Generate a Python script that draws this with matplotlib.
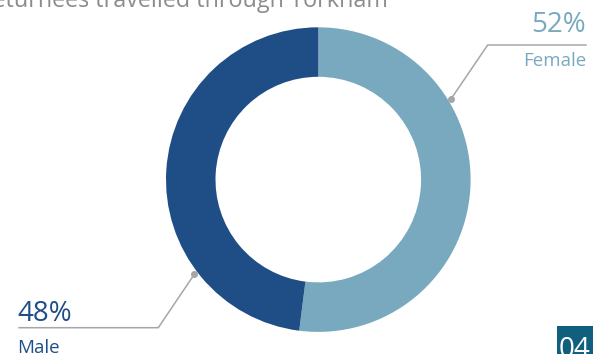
import matplotlib
matplotlib.use('Agg')
import matplotlib.pyplot as plt
from matplotlib.patches import Rectangle

labels = ['Female', 'Male']
shares = [52, 48]
colors = ['#78A9BF', '#1F4E87']

W, H = 596, 354

fig = plt.figure(figsize=(W / 100, H / 100), dpi=100)
ax = fig.add_axes([0, 0, 1, 1])

# donut, clockwise from 12 o'clock
cx, cy, r_out, r_in = 318.3, H - 179.6, 152.3, 102.8
ax.pie(shares, colors=colors, startangle=90, counterclock=False,
       center=(cx, cy), radius=r_out, frame=True,
       wedgeprops=dict(width=r_out - r_in, linewidth=0))
ax.set_xlim(0, W)
ax.set_ylim(0, H)
ax.axis('off')

grey = '#A6A6A6'
font = 'Open Sans'

# title, partly above the top edge
ax.text(388, H - 7.3, 'Returnees travelled through Yorkham', ha='right', va='baseline',
        fontsize=16.8, color='#8C8C8C', family=font)

# leader lines
fx = [451, 487.7, 586.7]
fy = [99, 45, 45]
ax.plot(fx, [H - v for v in fy], color=grey, lw=1.1, solid_capstyle='butt')
ax.plot(fx[0], H - fy[0], 'o', color=grey, ms=4)
mx = [194.3, 158.3, 18.3]
my = [274.3, 327.7, 327.7]
ax.plot(mx, [H - v for v in my], color=grey, lw=1.1, solid_capstyle='butt')
ax.plot(mx[0], H - my[0], 'o', color=grey, ms=4)

ax.text(586, H - 31.7, f'{shares[0]}%', ha='right', va='baseline',
        fontsize=20, color=colors[0], family=font)
ax.text(586, H - 66, labels[0], ha='right', va='baseline',
        fontsize=13.5, color=colors[0], family=font)
ax.text(17, H - 320.7, f'{shares[1]}%', ha='left', va='baseline',
        fontsize=20, color=colors[1], family=font)
ax.text(17, H - 352.7, labels[1], ha='left', va='baseline',
        fontsize=13.5, color=colors[1], family=font)

# page number tag
ax.add_patch(Rectangle((556.7, 0), 36, H - 326, color='#0F5F7D', lw=0))
ax.text(574.7, H - 357, '04', ha='center', va='baseline',
        fontsize=20, color='white', family=font)

fig.savefig('out.png', dpi=100)
